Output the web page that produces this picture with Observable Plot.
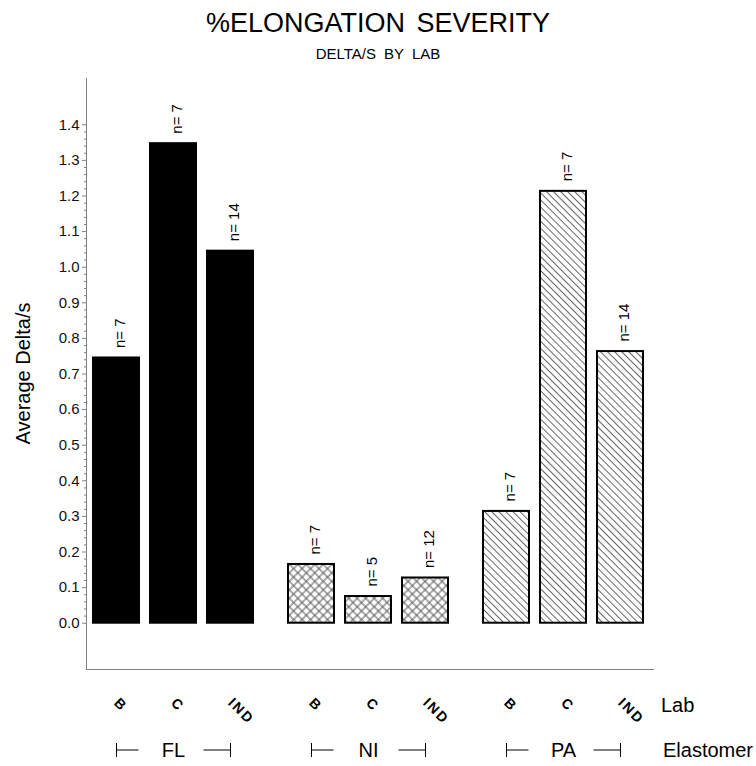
<!DOCTYPE html>
<html>
<head>
<meta charset="utf-8">
<script src="https://cdn.jsdelivr.net/npm/d3@7"></script>
<script src="https://cdn.jsdelivr.net/npm/@observablehq/plot@0.6"></script>
<style>
  body { margin: 0; background: #fff; font-family: "Liberation Sans", Arial, sans-serif; }
  #wrap { width: 756px; }
  #head { position: relative; height: 68px; }
  #title { position: absolute; left: 0; top: 8px; width: 756px; text-align: center; font-size: 27px; line-height: 30px; color: #000; word-spacing: 4px; }
  #subtitle { position: absolute; left: 0; top: 46px; width: 756px; text-align: center; font-size: 15px; line-height: 16px; color: #000; word-spacing: 4px; }
  #chart svg { display: block; }
</style>
</head>
<body>
<div id="wrap">
  <div id="head">
    <div id="title">%ELONGATION SEVERITY</div>
    <div id="subtitle">DELTA/S BY LAB</div>
  </div>
  <div id="chart"></div>
</div>
<script>
// ---- data ----
const elastomers = ["FL", "NI", "PA"];
const labs = ["B", "C", "IND"];
const flValues = [0.745, 1.347, 1.045];
const niValues = [0.165, 0.075, 0.127];
const paValues = [0.314, 1.213, 0.763];
const flCounts = [7, 7, 14];
const niCounts = [7, 5, 12];
const paCounts = [7, 7, 14];
const yTicks = [0.0, 0.1, 0.2, 0.3, 0.4, 0.5, 0.6, 0.7, 0.8, 0.9, 1.0, 1.1, 1.2, 1.3, 1.4];
const yLabel = "Average Delta/s";
const xLabel = "Lab";
const groupLabel = "Elastomer";

const seriesValues = {FL: flValues, NI: niValues, PA: paValues};
const seriesCounts = {FL: flCounts, NI: niCounts, PA: paCounts};
const data = elastomers.flatMap(el => labs.map((lab, i) => ({
  el, lab, value: seriesValues[el][i], n: seriesCounts[el][i]
})));
// minor ticks: 4 between each pair of major ticks
const minorTicks = yTicks.slice(0, -1).flatMap(t => [1, 2, 3, 4].map(k => +(t + k * 0.02).toFixed(3)));

const FONT = "Liberation Sans, Arial, sans-serif";

const chart = Plot.plot({
  width: 756,
  height: 698,
  marginTop: 10,
  marginBottom: 97,
  marginLeft: 86,
  marginRight: 106,
  style: {fontFamily: FONT, background: "#fff", overflow: "visible"},
  fx: {domain: elastomers, paddingInner: 0.118, paddingOuter: 0, axis: null, label: null},
  x: {domain: labs, paddingInner: 0.2, paddingOuter: 0.1, axis: null, label: null},
  y: {domain: [-0.13, 1.53], label: null},
  color: {domain: elastomers, range: ["#000", "url(#hatchCross)", "url(#hatchDiag)"]},
  marks: [
    Plot.axisY(minorTicks, {tickSize: 3, tickFormat: () => "", color: "#808080", label: null}),
    Plot.axisY(yTicks, {tickSize: 5, tickPadding: 3, tickFormat: d => d.toFixed(1), fontSize: 15, color: "#808080", label: null}),
    Plot.barY(data, {fx: "el", x: "lab", y: "value", fill: "el", stroke: "#000", strokeWidth: 2}),
    Plot.text(data, {
      fx: "el", x: "lab", y: "value", text: d => `n= ${d.n}`,
      rotate: -90, textAnchor: "start", lineAnchor: "middle",
      dy: -10, dx: 4, fontSize: 15, fill: "#000"
    }),
    Plot.text(data, {
      fx: "el", x: "lab", text: "lab", frameAnchor: "bottom",
      rotate: 45, textAnchor: "start", lineAnchor: "middle",
      dy: 31, fontSize: 14, fontWeight: "bold", fill: "#000"
    }),
    Plot.text(elastomers, {
      fx: d => d, text: d => d, frameAnchor: "bottom",
      lineAnchor: "middle", dy: 81, fontSize: 20, fill: "#000"
    })
  ]
});

// hatch patterns
chart.insertAdjacentHTML("afterbegin", `
<defs>
  <pattern id="hatchCross" patternUnits="userSpaceOnUse" width="6" height="6" patternTransform="rotate(45)">
    <rect width="6" height="6" fill="#fff"></rect>
    <path d="M3,0V6M0,3H6" stroke="#555" stroke-width="1" fill="none"></path>
  </pattern>
  <pattern id="hatchDiag" patternUnits="userSpaceOnUse" width="5" height="5" patternTransform="rotate(-45)">
    <rect width="5" height="5" fill="#fff"></rect>
    <path d="M2.5,0V5" stroke="#666" stroke-width="1" fill="none"></path>
  </pattern>
</defs>`);

const svg = d3.select(chart);
// tick label styling
svg.selectAll("text").filter(function() {
  return /^\d\.\d$/.test(this.textContent.trim());
}).attr("font-size", 15).style("font-size", "15px").attr("fill", "#111").style("fill", "#111");

// decorations placed with the library's scales
const fxS = chart.scale("fx");
const xS = chart.scale("x");
const yS = chart.scale("y");
const frameLeft = fxS.range[0];
const frameRight = fxS.range[1];
const frameBottom = yS.range[0];
const frameTop = yS.range[1];
const bandCenter = (el, lab) => fxS.apply(el) + (xS.apply(lab) - xS.range[0]) + xS.bandwidth / 2;

const deco = svg.append("g").attr("stroke", "#808080").attr("fill", "none");
deco.append("line").attr("x1", frameLeft + 0.5).attr("x2", frameLeft + 0.5).attr("y1", frameTop).attr("y2", frameBottom);
deco.append("line").attr("x1", frameLeft).attr("x2", frameRight + 4).attr("y1", frameBottom + 0.5).attr("y2", frameBottom + 0.5);

// y label
svg.append("text")
  .attr("transform", `translate(23,${(frameTop + frameBottom) / 2}) rotate(-90)`)
  .attr("text-anchor", "middle").attr("dominant-baseline", "central")
  .attr("font-family", FONT).attr("font-size", 20).attr("fill", "#000")
  .text(yLabel);

// Lab / Elastomer labels
svg.append("text").attr("x", frameRight + 11).attr("y", frameBottom + 36)
  .attr("text-anchor", "start")
  .attr("dominant-baseline", "central").attr("font-family", FONT).attr("font-size", 20).attr("fill", "#000")
  .text(xLabel);
svg.append("text").attr("x", frameRight + 13).attr("y", frameBottom + 81)
  .attr("text-anchor", "start")
  .attr("dominant-baseline", "central").attr("font-family", FONT).attr("font-size", 20).attr("fill", "#000")
  .text(groupLabel);

// brackets around elastomer names
const br = svg.append("g").attr("stroke", "#000").attr("stroke-width", 1).attr("fill", "none");
const by = frameBottom + 81;
for (const el of elastomers) {
  const l = Math.round(bandCenter(el, labs[0])) + 0.5;
  const r = Math.round(bandCenter(el, labs[labs.length - 1])) + 0.5;
  br.append("line").attr("x1", l).attr("x2", l).attr("y1", by - 7).attr("y2", by + 7);
  br.append("line").attr("x1", l).attr("x2", l + 22).attr("y1", by).attr("y2", by);
  br.append("line").attr("x1", r - 27).attr("x2", r).attr("y1", by).attr("y2", by);
  br.append("line").attr("x1", r).attr("x2", r).attr("y1", by - 7).attr("y2", by + 7);
}

// letter spacing for lab tick labels
svg.selectAll("text").filter(function() {
  return labs.includes(this.textContent) && (this.getAttribute("transform") || "").includes("rotate(45");
}).attr("letter-spacing", 2);

document.getElementById("chart").appendChild(chart);
</script>
</body>
</html>
